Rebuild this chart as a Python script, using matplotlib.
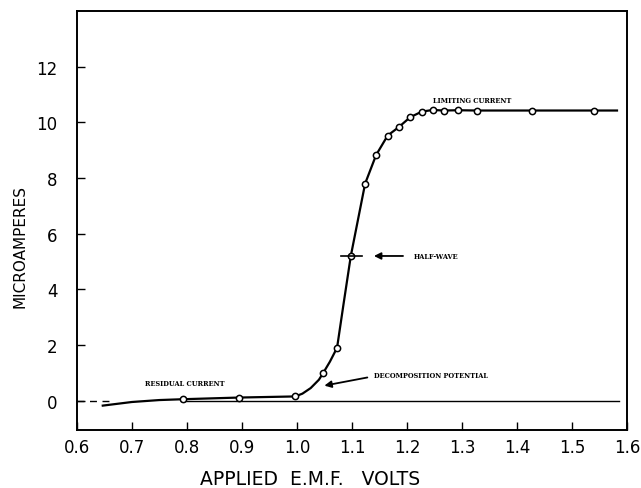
import matplotlib
matplotlib.use("Agg")
import matplotlib.pyplot as plt

# ── Данные ───────────────────────────────────────────────────────────────
# Точки измерений (кружки)
volts_pts = [0.793, 0.895, 0.997, 1.048, 1.073, 1.098, 1.124, 1.144, 1.165,
             1.185, 1.206, 1.227, 1.247, 1.267, 1.293, 1.328, 1.428, 1.540]
micro_pts = [0.05, 0.11, 0.15, 1.0, 1.9, 5.2, 7.8, 8.83, 9.53,
             9.83, 10.19, 10.39, 10.45, 10.43, 10.44, 10.43, 10.43, 10.43]

# Сглаженная кривая, проведённая через точки
volts_curve = [0.647, 0.70, 0.75, 0.793, 0.895, 0.997, 1.010, 1.025, 1.040,
               1.048, 1.060, 1.073, 1.085, 1.098, 1.124, 1.144, 1.165,
               1.185, 1.206, 1.227, 1.247, 1.267, 1.293, 1.328, 1.428, 1.540,
               1.582]
micro_curve = [-0.18, -0.05, 0.02, 0.05, 0.11, 0.15, 0.25, 0.45, 0.75,
               1.0, 1.4, 1.9, 3.5, 5.2, 7.8, 8.83, 9.53,
               9.83, 10.19, 10.39, 10.45, 10.43, 10.44, 10.43, 10.43, 10.43,
               10.43]

x_ticks = [0.6, 0.7, 0.8, 0.9, 1.0, 1.1, 1.2, 1.3, 1.4, 1.5, 1.6]
x_labels = ["0.6", "0.7", "0.8", "0.9", "1.0", "1.1", "1.2", "1.3", "1.4", "1.5", "1.6"]
y_ticks = [0, 2, 4, 6, 8, 10, 12]

half_wave = (1.098, 5.2)

fig = plt.figure(figsize=(6.41, 4.89), dpi=100)
ax = fig.add_axes([0.12, 0.119, 0.858, 0.856])

# нулевая линия: штрих у оси и сплошная справа
ax.plot([0.60, 0.665], [0, 0], color="black", linewidth=1.0, linestyle=(0, (5, 4)))
ax.plot([0.79, 1.585], [0, 0], color="black", linewidth=1.0)

ax.plot(volts_curve, micro_curve, color="black", linewidth=1.6)
ax.plot(volts_pts, micro_pts, "o", markersize=4.5, markerfacecolor="white",
        markeredgecolor="black", markeredgewidth=1.1)

# отметка полуволны
ax.plot([half_wave[0] - 0.018, half_wave[0] + 0.02], [half_wave[1]] * 2,
        color="black", linewidth=1.2)

ax.annotate("", xy=(1.135, 5.2), xytext=(1.198, 5.2),
            arrowprops=dict(arrowstyle="-|>", color="black", lw=1.3,
                            mutation_scale=10))
ax.annotate("", xy=(1.045, 0.52), xytext=(1.133, 0.85),
            arrowprops=dict(arrowstyle="-|>", color="black", lw=1.3,
                            mutation_scale=10))

small = dict(fontsize=4.8, fontweight="bold", family="DejaVu Serif", va="center")
ax.text(1.212, 5.2, "HALF-WAVE", **small)
ax.text(1.140, 0.92, "DECOMPOSITION POTENTIAL", **small)
ax.text(0.723, 0.65, "RESIDUAL CURRENT", **small)
ax.text(1.248, 10.8, "LIMITING CURRENT", **small)

ax.set_xlim(0.6, 1.6)
ax.set_ylim(-1.05, 14)
ax.set_xticks(x_ticks)
ax.set_xticklabels(x_labels)
ax.set_yticks(y_ticks)
ax.tick_params(direction="in", length=6, width=1.0, labelsize=12)
ax.tick_params(axis="x", pad=6)
ax.tick_params(axis="y", pad=14)
for s in ax.spines.values():
    s.set_linewidth(1.4)

ax.set_xlabel("APPLIED  E.M.F.   VOLTS", fontsize=13.5)
ax.set_ylabel("MICROAMPERES", fontsize=11)
ax.xaxis.set_label_coords(0.424, -0.117)
ax.yaxis.set_label_coords(-0.104, 0.44)
ax.xaxis.label.set_va("center")
ax.yaxis.label.set_va("center")

plt.savefig("out.png", dpi=100)
plt.close()
